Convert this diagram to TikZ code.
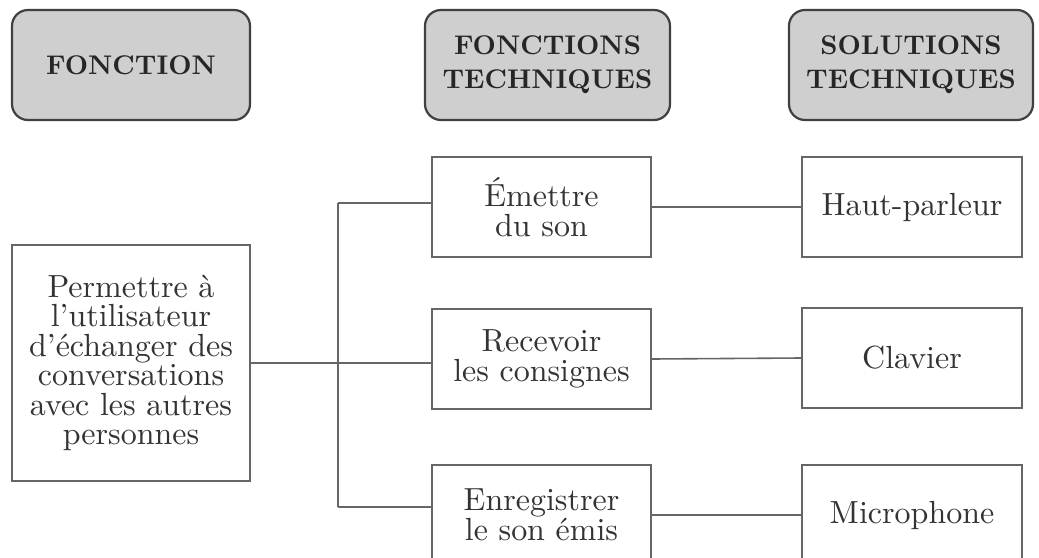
\documentclass[tikz,border=0pt]{standalone}
\usepackage{fontspec}
\setmainfont{lmroman10-regular.otf}[BoldFont=lmroman10-bold.otf]
\begin{document}
\begin{tikzpicture}[x=1pt,y=-1pt,
  hdr/.style={draw=black!75, line width=2.2pt, fill=black!19, rounded corners=16pt,
     align=center, text=black!85, font=\fontsize{27}{34}\selectfont\bfseries, inner sep=0pt},
  box/.style={draw=black!60, line width=1.6pt, fill=white, align=center, text=black!80,
     font=\fontsize{32}{29.5}\selectfont, inner sep=0pt},
  link/.style={draw=black!60, line width=1.6pt}]
\useasboundingbox (0,0) rectangle (1039,557);
\clip (0,0) rectangle (1039,557);
\fill[white] (0,0) rectangle (1039,557);
\node[hdr, minimum width=238pt, minimum height=110pt] (h1) at (131,65) {FONCTION};
\node[hdr, minimum width=245pt, minimum height=110pt] (h2) at (547.5,65) {FONCTIONS\\TECHNIQUES};
\node[hdr, minimum width=244pt, minimum height=110pt] (h3) at (911,65) {SOLUTIONS\\TECHNIQUES};
\node[box, minimum width=238pt, minimum height=236pt] (main) at (131,363)
  {Permettre à\\l’utilisateur\\d’échanger des\\conversations\\avec les autres\\personnes};
\node[box, minimum width=219pt, minimum height=100pt] (f1) at (541.5,207) {Émettre\\du son};
\node[box, minimum width=219pt, minimum height=100pt] (f2) at (541.5,359) {Recevoir\\les consignes};
\node[box, minimum width=219pt, minimum height=100pt] (f3) at (541.5,515) {Enregistrer\\le son émis};
\node[box, minimum width=220pt, minimum height=100pt] (s1) at (912,207) {Haut-parleur};
\node[box, minimum width=220pt, minimum height=100pt] (s2) at (912,358) {Clavier};
\node[box, minimum width=220pt, minimum height=100pt] (s3) at (912,515) {Microphone};
\coordinate (t1) at (338,203);
\coordinate (t3) at (338,507);
\draw[link] (t1) -- (t3);
\draw[link] (t1) -- (t1 -| f1.west);
\draw[link] (t3) -- (t3 -| f3.west);
\draw[link] (main.east) -- (main.east -| f2.west);
\draw[link] (f1.east) -- (s1.west);
\draw[link] (f2.east) -- (s2.west);
\draw[link] (f3.east) -- (s3.west);
\end{tikzpicture}
\end{document}
